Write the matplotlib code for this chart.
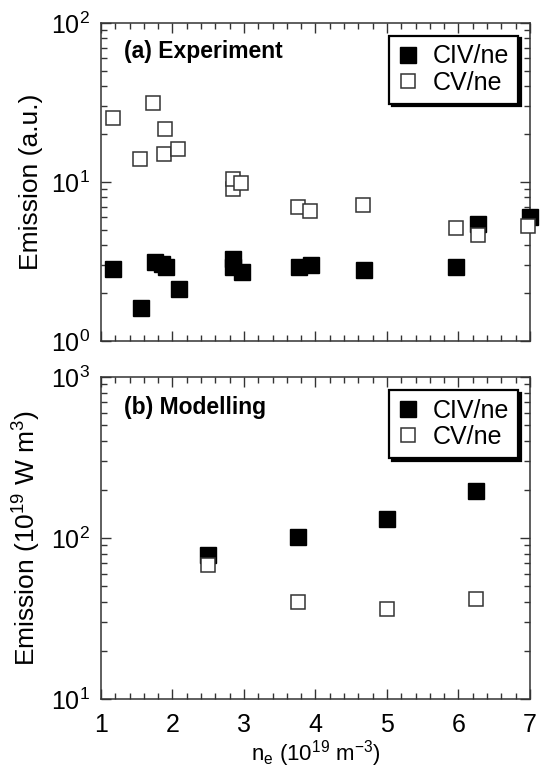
import matplotlib
matplotlib.use("Agg")
import matplotlib.pyplot as plt
from matplotlib.ticker import MultipleLocator, LogLocator, NullFormatter

plt.rcParams['font.family'] = ['Liberation Sans', 'DejaVu Sans']
plt.rcParams['mathtext.fontset'] = 'custom'
plt.rcParams['mathtext.rm'] = 'Liberation Sans'
plt.rcParams['mathtext.default'] = 'regular'

# (a) experiment: CIV/ne and CV/ne emission vs density
exp_civ_ne = [1.17, 1.56, 1.75, 1.86, 1.91, 2.09, 2.85, 2.85, 2.97, 3.77, 3.94, 4.68, 5.97, 6.28, 7.0]
exp_civ = [2.82, 1.62, 3.16, 3.05, 2.93, 2.13, 3.26, 2.93, 2.73, 2.91, 3.0, 2.80, 2.91, 5.44, 6.0]
exp_cv_ne = [1.17, 1.55, 1.73, 1.89, 1.88, 2.08, 2.85, 2.85, 2.96, 3.76, 3.92, 4.67, 5.96, 6.27, 6.97]
exp_cv = [25.1, 13.9, 31.3, 21.4, 15.0, 16.2, 9.1, 10.4, 9.9, 7.0, 6.6, 7.2, 5.16, 4.64, 5.31]

# (b) modelling
mod_ne = [2.5, 3.75, 5.0, 6.25]
mod_civ = [78, 101, 131, 195]
mod_cv = [68, 40, 36, 42]

fig = plt.figure(figsize=(5.43, 7.71), dpi=100)
ax1 = fig.add_axes([0.186, 0.5577, 0.790, 0.4125])
ax2 = fig.add_axes([0.186, 0.0934, 0.790, 0.4176])


def style(ax, ylim):
    ax.set_yscale('log')
    ax.set_xlim(1, 7)
    ax.set_ylim(*ylim)
    ax.xaxis.set_major_locator(MultipleLocator(1))
    ax.xaxis.set_minor_locator(MultipleLocator(0.2))
    ax.yaxis.set_major_locator(LogLocator(base=10))
    ax.yaxis.set_minor_locator(LogLocator(base=10, subs=range(2, 10)))
    ax.yaxis.set_minor_formatter(NullFormatter())
    ax.tick_params(which='both', direction='in', top=True, right=True,
                   width=1, color='#333333', labelsize=18)
    ax.tick_params(which='major', length=7)
    ax.tick_params(which='minor', length=4)
    ax.tick_params(axis='x', pad=10)
    ax.tick_params(axis='y', pad=8)
    for s in ax.spines.values():
        s.set_linewidth(1.1)
        s.set_color('#333333')


def legend(ax):
    leg = ax.legend(loc='upper right', bbox_to_anchor=(0.972, 0.96), fontsize=18,
                    frameon=True, fancybox=False, edgecolor='black', framealpha=1,
                    shadow={'color': 'black', 'alpha': 1}, handlelength=0.8,
                    handletextpad=0.6, borderpad=0.35, labelspacing=0.1,
                    borderaxespad=0)
    leg.get_frame().set_linewidth(1.6)


style(ax1, (1, 100))
ax1.plot(exp_civ_ne, exp_civ, 's', ms=11.5, color='black', mec='black',
         clip_on=False, label='CIV/ne', zorder=3)
ax1.plot(exp_cv_ne, exp_cv, 's', ms=10.5, mfc='white', mec='#333333', mew=1.1,
         clip_on=False, label='CV/ne', zorder=4)
ax1.tick_params(axis='x', labelbottom=False)
ax1.set_ylabel('Emission (a.u.)', fontsize=19, labelpad=6)
ax1.text(0.054, 0.909, '(a) Experiment', transform=ax1.transAxes, fontsize=16.5,
         fontweight='bold', va='center', ha='left')
legend(ax1)

style(ax2, (10, 1000))
ax2.plot(mod_ne, mod_civ, 's', ms=11.5, color='black', mec='black',
         clip_on=False, label='CIV/ne', zorder=3)
ax2.plot(mod_ne, mod_cv, 's', ms=10.5, mfc='white', mec='#333333', mew=1.1,
         clip_on=False, label='CV/ne', zorder=4)
ax2.set_ylabel('Emission (10$^{19}$ W m$^{3}$)', fontsize=19, labelpad=6)
ax2.set_xlabel('n$_{e}$ (10$^{19}$ m$^{-3}$)', fontsize=16, labelpad=1)
ax2.text(0.054, 0.904, '(b) Modelling', transform=ax2.transAxes, fontsize=16.5,
         fontweight='bold', va='center', ha='left')
legend(ax2)

fig.savefig('out.png', dpi=100)
